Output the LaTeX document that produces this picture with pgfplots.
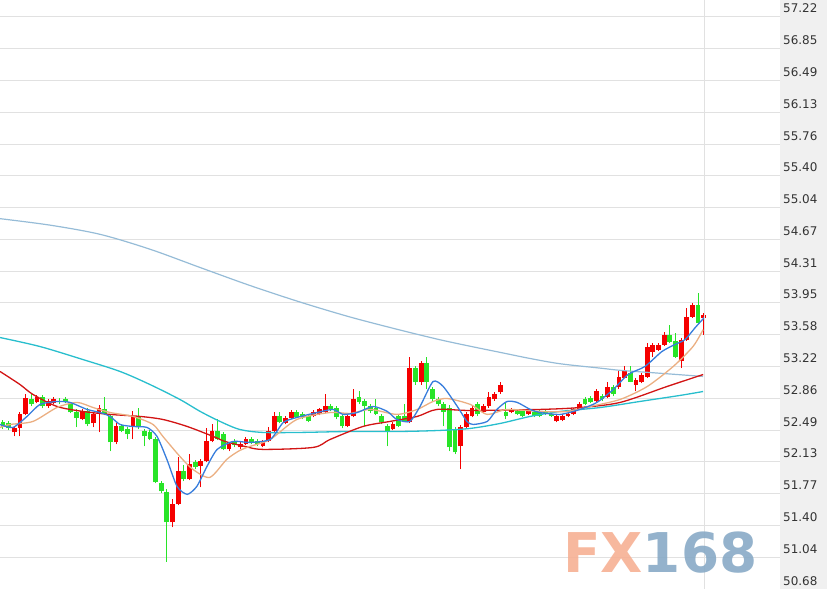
\documentclass[border=0pt]{standalone}
\usepackage{pgfplots}
\pgfplotsset{compat=1.18}
\usepackage{pgfplotstable}
\usepackage{fontspec}
\setmainfont{DejaVu Sans}

\definecolor{cUp}{RGB}{245,0,0}
\definecolor{cDn}{RGB}{40,228,40}
\definecolor{cMAa}{RGB}{55,125,220}
\definecolor{cMAb}{RGB}{235,175,130}
\definecolor{cMAc}{RGB}{210,20,20}
\definecolor{cMAd}{RGB}{40,190,205}
\definecolor{cMAe}{RGB}{150,188,215}
\definecolor{cGrid}{RGB}{225,225,225}
\definecolor{cPanel}{RGB}{240,240,240}
\definecolor{cFX}{RGB}{246,176,148}
\definecolor{cNum}{RGB}{136,170,198}

% rising candles (red): index, high, low, body top, body bottom
\pgfplotstableread{
i hi lo top bot
2 52.538 52.424 52.516 52.470
3 52.698 52.424 52.676 52.516
4 52.904 52.664 52.858 52.676
6 52.893 52.801 52.870 52.813
8 52.847 52.755 52.824 52.767
9 52.870 52.790 52.847 52.801
14 52.733 52.607 52.710 52.618
16 52.698 52.527 52.676 52.573
17 52.778 52.470 52.755 52.687
20 52.573 52.333 52.538 52.356
23 52.710 52.390 52.653 52.538
30 51.705 51.385 51.648 51.442
31 52.185 51.637 52.025 51.648
33 52.219 51.922 52.105 51.934
35 52.162 51.842 52.139 52.082
36 52.516 52.127 52.367 52.139
37 52.561 52.356 52.481 52.367
40 52.356 52.253 52.333 52.276
42 52.356 52.276 52.333 52.299
43 52.413 52.322 52.390 52.333
46 52.379 52.299 52.356 52.310
47 52.527 52.356 52.481 52.367
48 52.698 52.470 52.653 52.481
50 52.653 52.561 52.630 52.573
51 52.721 52.618 52.698 52.630
55 52.721 52.641 52.698 52.653
56 52.755 52.664 52.733 52.676
57 52.915 52.687 52.767 52.698
61 52.676 52.527 52.653 52.538
62 52.961 52.641 52.847 52.653
69 52.584 52.493 52.561 52.504
72 53.338 52.573 53.212 52.584
74 53.292 53.018 53.269 53.041
81 52.550 52.048 52.527 52.310
82 52.698 52.516 52.676 52.527
83 52.778 52.641 52.755 52.653
85 52.790 52.687 52.767 52.698
86 52.927 52.755 52.870 52.767
87 52.927 52.835 52.904 52.847
88 53.041 52.915 53.018 52.927
90 52.755 52.687 52.733 52.698
93 52.733 52.664 52.710 52.676
98 52.676 52.584 52.653 52.596
99 52.676 52.596 52.653 52.607
100 52.698 52.641 52.676 52.653
101 52.755 52.664 52.733 52.676
102 52.813 52.721 52.790 52.733
105 52.961 52.813 52.938 52.824
107 53.041 52.858 52.995 52.870
109 53.167 52.972 53.109 52.984
110 53.224 53.087 53.167 53.098
112 53.098 52.938 53.075 53.018
113 53.155 53.030 53.132 53.041
114 53.498 53.098 53.452 53.109
115 53.498 53.338 53.475 53.395
116 53.498 53.406 53.475 53.418
117 53.623 53.463 53.589 53.475
120 53.555 53.212 53.532 53.281
121 53.897 53.520 53.794 53.532
122 53.954 53.783 53.932 53.794
124 53.840 53.589 53.817 53.783
}\redtab

% falling candles (green): index, high, low, body top, body bottom
\pgfplotstableread{
i hi lo top bot
0 52.607 52.504 52.584 52.527
1 52.596 52.493 52.573 52.516
5 52.904 52.767 52.847 52.790
7 52.893 52.744 52.870 52.767
10 52.858 52.790 52.835 52.813
11 52.870 52.801 52.847 52.813
12 52.813 52.687 52.790 52.698
13 52.733 52.527 52.698 52.630
15 52.744 52.538 52.710 52.561
18 52.870 52.664 52.733 52.676
19 52.676 52.253 52.653 52.356
21 52.561 52.470 52.538 52.481
22 52.527 52.390 52.504 52.447
24 52.755 52.504 52.641 52.527
25 52.504 52.310 52.481 52.424
26 52.493 52.379 52.470 52.390
27 52.413 51.888 52.390 51.899
28 51.911 51.774 51.888 51.796
29 51.819 50.986 51.785 51.442
32 52.093 51.911 52.025 51.934
34 52.150 52.048 52.127 52.070
38 52.618 52.379 52.481 52.390
39 52.470 52.264 52.447 52.276
41 52.390 52.299 52.367 52.322
44 52.413 52.333 52.390 52.356
45 52.390 52.310 52.367 52.333
49 52.698 52.573 52.653 52.584
52 52.721 52.630 52.698 52.641
53 52.698 52.618 52.676 52.641
54 52.676 52.584 52.653 52.596
58 52.790 52.710 52.767 52.733
59 52.767 52.618 52.744 52.641
60 52.676 52.516 52.653 52.538
63 52.938 52.790 52.870 52.813
64 52.847 52.538 52.824 52.767
65 52.790 52.687 52.767 52.710
66 52.847 52.664 52.755 52.676
67 52.676 52.561 52.653 52.584
68 52.561 52.310 52.538 52.481
70 52.676 52.527 52.653 52.538
71 52.790 52.584 52.653 52.596
73 53.235 53.018 53.212 53.041
75 53.338 52.961 53.269 53.041
76 52.984 52.824 52.961 52.847
77 52.870 52.767 52.847 52.790
78 52.813 52.538 52.790 52.698
79 52.778 52.253 52.755 52.299
80 52.527 52.219 52.504 52.242
84 52.813 52.653 52.790 52.676
89 52.813 52.618 52.698 52.653
91 52.733 52.664 52.710 52.676
92 52.733 52.641 52.710 52.653
94 52.721 52.641 52.698 52.653
95 52.721 52.641 52.698 52.653
96 52.721 52.664 52.698 52.676
97 52.698 52.641 52.676 52.653
103 52.870 52.778 52.847 52.790
104 52.881 52.801 52.858 52.813
106 52.904 52.824 52.881 52.847
108 53.007 52.881 52.984 52.904
111 53.224 53.041 53.155 53.052
118 53.703 53.498 53.589 53.509
119 53.612 53.326 53.520 53.338
123 54.069 53.715 53.932 53.726
}\greentab

\begin{document}
\begin{tikzpicture}
\fill[cPanel] (780bp,0) rectangle (827bp,589bp);
\begin{axis}[
  at={(0,0)}, anchor=south west,
  scale only axis, width=780bp, height=589bp,
  xmin=-0.53, xmax=137.5,
  ymin=50.68, ymax=57.414,
  axis line style={draw=none},
  xtick=\empty,
  ytick={50.68,51.04333,51.40667,51.77,52.13333,52.49667,52.86,53.22333,53.58667,53.95,54.31333,54.67667,55.04,55.40333,55.76667,56.13,56.49333,56.85667,57.22},
  yticklabels={50.68,51.04,51.40,51.77,52.13,52.49,52.86,53.22,53.58,53.95,54.31,54.67,55.04,55.40,55.76,56.13,56.49,56.85,57.22},
  yticklabel pos=right,
  ymajorgrids,
  major grid style={draw=cGrid, line width=1bp},
  major tick length=0pt,
  yticklabel style={anchor=base west, inner sep=0pt, xshift=3bp, yshift=4bp,
    font=\fontsize{12}{14}\selectfont, text=black!80},
]
% candle wicks
\addplot[draw=none, mark=none, forget plot,
  error bars/.cd, y dir=plus, y explicit, error mark=none,
  error bar style={draw=cUp, line width=1bp, line cap=butt}]
  table[x=i, y=lo, y error expr=\thisrow{hi}-\thisrow{lo}] {\redtab};
\addplot[draw=none, mark=none, forget plot,
  error bars/.cd, y dir=plus, y explicit, error mark=none,
  error bar style={draw=cDn, line width=1bp, line cap=butt}]
  table[x=i, y=lo, y error expr=\thisrow{hi}-\thisrow{lo}] {\greentab};
% candle bodies
\addplot[draw=none, mark=none, forget plot,
  error bars/.cd, y dir=plus, y explicit, error mark=none,
  error bar style={draw=cUp, line width=4.8bp, line cap=butt}]
  table[x=i, y=bot, y error expr=\thisrow{top}-\thisrow{bot}] {\redtab};
\addplot[draw=none, mark=none, forget plot,
  error bars/.cd, y dir=plus, y explicit, error mark=none,
  error bar style={draw=cDn, line width=4.8bp, line cap=butt}]
  table[x=i, y=bot, y error expr=\thisrow{top}-\thisrow{bot}] {\greentab};

% long moving average
\addplot[cMAe, line width=1.2bp, smooth, tension=0.5, mark=none] coordinates {
(-0.53,54.914) (8.32,54.840) (17.17,54.735) (26.0,54.565) (34.9,54.355) (43.7,54.150)
(52.6,53.960) (61.4,53.790) (70.3,53.640) (77.3,53.530) (82.7,53.455) (88.0,53.385)
(93.3,53.315) (98.6,53.255) (105.7,53.205) (109.2,53.180) (114.5,53.155) (123.9,53.11)};
% MA60
\addplot[cMAd, line width=1.3bp, smooth, tension=0.5, mark=none] coordinates {
(-0.53,53.555) (6.55,53.452) (14.16,53.303) (20.71,53.167) (26.0,53.018) (31.3,52.847)
(34.9,52.710) (38.4,52.596) (41.9,52.504) (46.0,52.470) (52.6,52.470) (61.4,52.481)
(70.3,52.481) (77.3,52.493) (82.7,52.516) (88.0,52.573) (93.3,52.653) (98.6,52.710)
(105.7,52.755) (112.7,52.824) (119.8,52.893) (123.9,52.938)};
% MA20
\addplot[cMAc, line width=1.3bp, smooth, tension=0.5, mark=none] coordinates {
(-0.53,53.167) (3.0,53.018) (5.31,52.904) (9.56,52.767) (14.16,52.710) (18.94,52.676)
(24.25,52.653) (28.3,52.618) (32.6,52.538) (37.2,52.424) (39.3,52.367) (42.8,52.310)
(46.0,52.276) (54.9,52.299) (57.9,52.390) (63.7,52.538) (68.5,52.596) (73.3,52.653)
(76.8,52.733) (82.7,52.721) (95.0,52.733) (102.1,52.755) (109.2,52.813) (117.5,52.995)
(123.9,53.132)};
% MA10
\addplot[cMAb, line width=1.3bp, smooth, tension=0.45, mark=none] coordinates {
(-0.53,52.527) (1.24,52.561) (5.31,52.596) (9.56,52.755) (13.1,52.813) (15.93,52.755)
(18.94,52.698) (23.0,52.653) (26.55,52.561) (28.3,52.424) (31.3,52.196) (33.6,52.048)
(36.6,51.956) (39.6,52.162) (41.9,52.264) (43.7,52.310) (47.3,52.390) (52.0,52.618)
(57.9,52.698) (61.4,52.687) (65.0,52.733) (69.7,52.676) (73.3,52.733) (76.1,52.824)
(78.6,52.858) (82.7,52.790) (85.7,52.676) (89.2,52.733) (95.0,52.710) (99.8,52.710)
(103.9,52.767) (109.2,52.847) (114.0,52.995) (118.6,53.224) (122.1,53.452) (123.9,53.646)};
% MA5
\addplot[cMAa, line width=1.3bp, smooth, tension=0.4, mark=none] coordinates {
(-0.53,52.561) (1.77,52.527) (4.25,52.653) (6.55,52.790) (9.56,52.824) (11.86,52.813)
(14.87,52.733) (17.17,52.698) (18.94,52.653) (20.71,52.561) (23.0,52.538) (25.5,52.527)
(27.26,52.424) (29.0,52.162) (30.8,51.853) (32.6,51.762) (34.3,51.853) (36.1,52.082)
(37.9,52.276) (40.7,52.367) (43.7,52.356) (47.3,52.390) (49.6,52.584) (52.0,52.641)
(55.6,52.698) (58.4,52.733) (60.2,52.676) (62.7,52.698) (65.5,52.767) (68.0,52.710)
(69.7,52.618) (72.0,52.596) (73.8,52.767) (76.1,53.052) (77.9,52.995) (80.4,52.767)
(82.1,52.596) (83.2,52.561) (85.7,52.596) (87.4,52.733) (89.2,52.824) (91.0,52.813)
(93.3,52.733) (95.0,52.698) (98.6,52.676) (102.1,52.733) (105.1,52.813) (108.0,52.961)
(110.6,53.132) (113.6,53.224) (116.6,53.395) (118.9,53.475) (120.7,53.532) (122.5,53.669)
(124.1,53.783)};

% current-time line
\draw[cGrid, line width=1bp] (axis cs:124.2,50.68) -- (axis cs:124.2,57.414);
% watermark
\node[anchor=base west, inner sep=0pt, opacity=0.9,
  font=\fontsize{55}{55}\selectfont\bfseries] at (axis cs:99.1,50.871)
  {\textcolor{cFX}{FX}\textcolor{cNum}{168}};
\end{axis}
\pgfresetboundingbox
\useasboundingbox (0,0) rectangle (827bp,589bp);
\end{tikzpicture}
\end{document}
